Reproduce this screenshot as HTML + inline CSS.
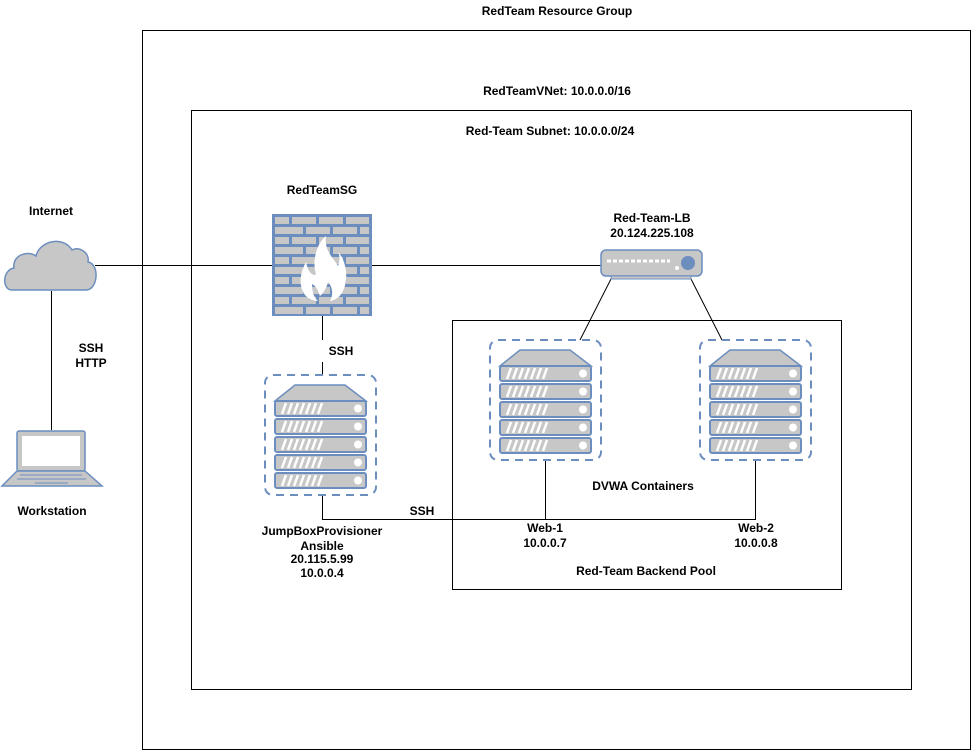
<!DOCTYPE html>
<html><head><meta charset="utf-8"><style>
html,body{margin:0;padding:0;background:#fff;}
svg{display:block;}
text{font-family:"Liberation Sans",sans-serif;font-size:12px;fill:#000;font-weight:bold;}
</style></head><body>
<svg width="972" height="751" viewBox="0 0 972 751" xmlns="http://www.w3.org/2000/svg">
<defs>
<g id="srv">
<rect x="0" y="0" width="111" height="120" rx="8" fill="none" stroke="#6c8ebf" stroke-width="2" stroke-dasharray="8,6"/>
<path d="M10 26 L30 10 L80 10 L101 26 Z" fill="#c7c7c7" stroke="#6c8ebf" stroke-width="1.5"/>
<g id="unit"><rect x="10" y="26" width="91" height="15" rx="2" fill="#c7c7c7" stroke="#6c8ebf" stroke-width="2"/>
<path d="M17 39 l4 -11 M23 39 l4 -11 M29 39 l4 -11 M35 39 l4 -11 M41 39 l4 -11 M47 39 l4 -11 M53 39 l4 -11" stroke="#fff" stroke-width="2.5"/>
<circle cx="93" cy="33.5" r="4" fill="#fff"/></g>
<use href="#unit" y="18"/><use href="#unit" y="36"/><use href="#unit" y="54"/><use href="#unit" y="72"/>
</g>
</defs>
<g fill="none" stroke="#000" stroke-width="1">
<rect x="142.5" y="30.5" width="828" height="719"/>
<rect x="191.5" y="110.5" width="720" height="579"/>
<rect x="452.5" y="320.5" width="389" height="269"/>
<path d="M95 265.5 H272 M372 265.5 H601"/>
<path d="M612 277 L580 340 M690 277 L722 340"/>
<path d="M322.5 316 V340 M322.5 362 V375 M322.5 495 V519.5 H755.5 V460 M545.5 519.5 V460"/>
<path d="M51.5 291 V430"/>
</g>
<!-- cloud -->
<path d="M12 290 C2 290 2 270 14 268 C12 255 28 250 36 256 C40 240 64 236 72 250 C78 246 90 252 88 262 C100 264 98 290 86 290 Z" fill="#c7c7c7" stroke="#6c8ebf" stroke-width="1.5"/>
<!-- laptop -->
<rect x="17" y="431" width="68" height="40" rx="2" fill="#c7c7c7" stroke="#6c8ebf" stroke-width="1.5"/>
<rect x="22" y="436" width="58" height="30" fill="#fff"/>
<path d="M17 471 L2 486 L102 486 L85 471 Z" fill="#c7c7c7" stroke="#6c8ebf" stroke-width="1.5"/>
<path d="M20 475 H82 M17 479 H86 M35 483 H68" stroke="#6c8ebf"/>
<!-- firewall -->
<rect x="272" y="214" width="100" height="102" fill="#6c8ebf"/>
<g fill="#c7c7c7">
<g id="r1"><rect x="275" y="217" width="14" height="7"/><rect x="292" y="217" width="24" height="7"/><rect x="319" y="217" width="24" height="7"/><rect x="346" y="217" width="23" height="7"/></g>
<g id="r2"><rect x="275" y="227" width="28" height="7"/><rect x="306" y="227" width="24" height="7"/><rect x="333" y="227" width="24" height="7"/><rect x="360" y="227" width="9" height="7"/></g>
<use href="#r1" y="20"/><use href="#r2" y="20"/><use href="#r1" y="40"/><use href="#r2" y="40"/><use href="#r1" y="60"/><use href="#r2" y="60"/><use href="#r1" y="80"/><use href="#r2" y="80"/>
</g>
<path d="M318 301 C300 300 296 280 306 262 C308 272 312 276 316 274 C312 262 316 244 326 236 C324 252 334 258 338 266 C340 260 340 256 338 252 C350 264 350 298 330 301 C334 294 332 286 328 282 C326 290 322 294 320 296 C318 290 316 286 312 284 C312 292 314 298 318 301 Z" fill="#fff"/>
<!-- LB -->
<rect x="601" y="250" width="101" height="26" rx="5" fill="#c7c7c7" stroke="#6c8ebf" stroke-width="1.5"/>
<rect x="611" y="276" width="80" height="3" fill="#c7c7c7" stroke="#6c8ebf"/>
<path d="M607 261 H670" stroke="#fff" stroke-width="3" stroke-dasharray="4,2"/>
<circle cx="688" cy="263" r="7" fill="#6c8ebf"/><circle cx="677" cy="268" r="2" fill="#fff"/>
<!-- servers -->
<use href="#srv" x="490" y="340"/>
<use href="#srv" x="700" y="340"/>
<use href="#srv" x="265" y="375"/>
<!-- labels -->
<g text-anchor="middle">
<text x="557" y="15">RedTeam Resource Group</text>
<text x="557" y="95">RedTeamVNet: 10.0.0.0/16</text>
<text x="550" y="135">Red-Team Subnet: 10.0.0.0/24</text>
<text x="322" y="194">RedTeamSG</text>
<text x="51" y="215">Internet</text>
<text x="652" y="222">Red-Team-LB</text>
<text x="652" y="237">20.124.225.108</text>
<text x="91" y="352">SSH</text>
<text x="91" y="367">HTTP</text>
<text x="341" y="355">SSH</text>
<text x="52" y="515">Workstation</text>
<text x="643" y="490">DVWA Containers</text>
<text x="422" y="515">SSH</text>
<text x="545" y="532">Web-1</text>
<text x="545" y="547">10.0.0.7</text>
<text x="756" y="532">Web-2</text>
<text x="756" y="547">10.0.0.8</text>
<text x="322" y="535">JumpBoxProvisioner</text>
<text x="322" y="550">Ansible</text>
<text x="322" y="563">20.115.5.99</text>
<text x="322" y="577">10.0.0.4</text>
<text x="646" y="575">Red-Team Backend Pool</text>
</g>
</svg>
</body></html>
